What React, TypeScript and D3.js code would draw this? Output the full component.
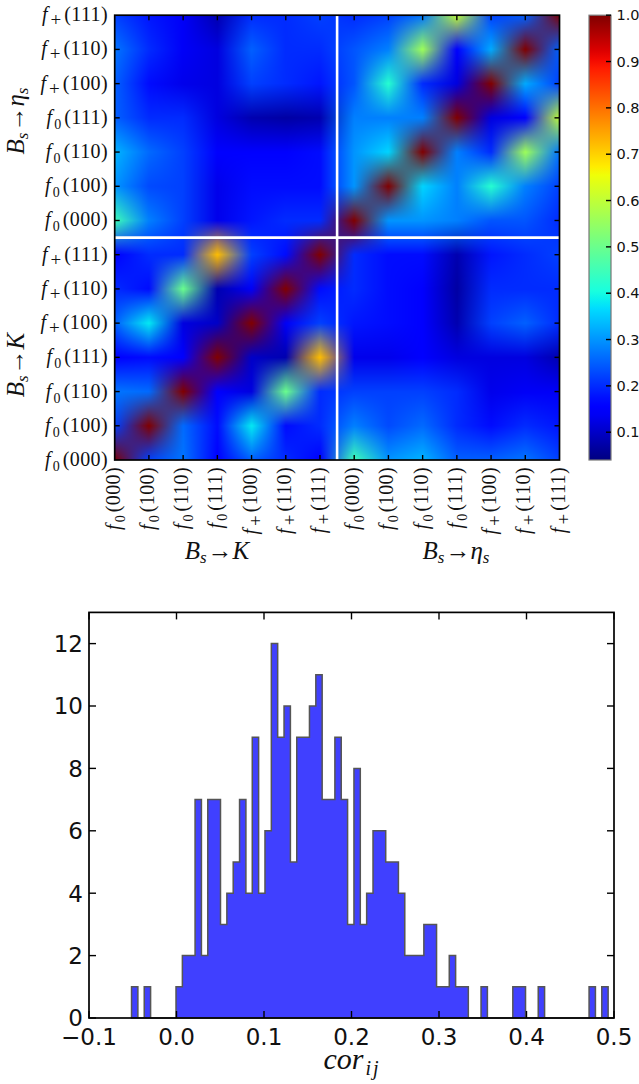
import { useMemo } from "react";
import * as d3 from "d3";

const formFactors = [
  ["0", "000"],
  ["0", "100"],
  ["0", "110"],
  ["0", "111"],
  ["+", "100"],
  ["+", "110"],
  ["+", "111"],
];

const corrKK = [
  [1.0, 0.22, 0.27, 0.15, 0.25, 0.2, 0.15],
  [0.22, 1.0, 0.26, 0.17, 0.38, 0.17, 0.2],
  [0.27, 0.26, 1.0, 0.15, 0.12, 0.5, 0.2],
  [0.15, 0.17, 0.15, 1.0, 0.1, 0.08, 0.72],
  [0.25, 0.38, 0.12, 0.1, 1.0, 0.14, 0.22],
  [0.2, 0.17, 0.5, 0.08, 0.14, 1.0, 0.17],
  [0.15, 0.2, 0.2, 0.72, 0.22, 0.17, 1.0],
];

const corrEE = [
  [1.0, 0.3, 0.3, 0.28, 0.24, 0.24, 0.2],
  [0.3, 1.0, 0.36, 0.28, 0.42, 0.28, 0.22],
  [0.3, 0.36, 1.0, 0.28, 0.2, 0.56, 0.27],
  [0.28, 0.28, 0.28, 1.0, 0.12, 0.15, 0.6],
  [0.24, 0.42, 0.2, 0.12, 1.0, 0.32, 0.22],
  [0.24, 0.28, 0.56, 0.15, 0.32, 1.0, 0.25],
  [0.2, 0.22, 0.27, 0.6, 0.22, 0.25, 1.0],
];

// rows: Bs->K, columns: Bs->eta_s
const corrKE = [
  [0.45, 0.3, 0.33, 0.25, 0.25, 0.27, 0.22],
  [0.28, 0.23, 0.26, 0.2, 0.17, 0.2, 0.18],
  [0.22, 0.22, 0.22, 0.2, 0.13, 0.14, 0.14],
  [0.13, 0.13, 0.15, 0.12, 0.12, 0.12, 0.08],
  [0.18, 0.17, 0.15, 0.08, 0.22, 0.25, 0.2],
  [0.2, 0.17, 0.16, 0.07, 0.2, 0.2, 0.2],
  [0.2, 0.17, 0.17, 0.08, 0.18, 0.2, 0.22],
];

const barTicks = [0.1, 0.2, 0.3, 0.4, 0.5, 0.6, 0.7, 0.8, 0.9, 1.0];

const histCounts = [
  1, 0, 1, 0, 0, 0, 0, 1, 2, 2, 7, 2, 7, 7, 3, 4, 5, 7, 4, 9, 4, 6, 12, 9, 10,
  5, 9, 9, 10, 11, 7, 7, 9, 7, 3, 8, 3, 4, 6, 6, 5, 5, 4, 2, 2, 2, 3, 3, 1, 1,
  2, 1, 1, 0, 0, 1, 0, 0, 0, 0, 1, 1, 0, 0, 1, 0, 0, 0, 0, 0, 0, 0, 1, 0, 1,
];
const histStart = -0.0514;
const histEnd = 0.4933;
const histXTicks = [-0.1, 0, 0.1, 0.2, 0.3, 0.4, 0.5];
const histYTicks = [0, 2, 4, 6, 8, 10, 12];

const vMin = 0.04;
const vMax = 1.0;

const jetStops = {
  r: [[0, 0], [0.35, 0], [0.66, 1], [0.89, 1], [1, 0.5]],
  g: [[0, 0], [0.125, 0], [0.375, 1], [0.64, 1], [0.91, 0], [1, 0]],
  b: [[0, 0.5], [0.11, 1], [0.34, 1], [0.65, 0], [1, 0]],
};

const channel = (stops: number[][]) =>
  d3.scaleLinear().domain(stops.map((d) => d[0])).range(stops.map((d) => d[1])).clamp(true);
const chR = channel(jetStops.r);
const chG = channel(jetStops.g);
const chB = channel(jetStops.b);
const jet = (t: number): number[] => [
  Math.round(chR(t) * 255),
  Math.round(chG(t) * 255),
  Math.round(chB(t) * 255),
];

const fullMatrix = () => {
  const n = formFactors.length;
  const m: number[][] = d3.range(2 * n).map(() => new Array(2 * n).fill(0));
  for (let i = 0; i < n; i++) {
    for (let j = 0; j < n; j++) {
      m[i][j] = corrKK[i][j];
      m[i + n][j + n] = corrEE[i][j];
      m[i][j + n] = corrKE[i][j];
      m[j + n][i] = corrKE[i][j];
    }
  }
  return m;
};

const SERIF = "'Liberation Serif', serif";
const SANS = "'DejaVu Sans', sans-serif";

const FFLabel = ({ sub, mom, ...rest }: any) => (
  <text fontFamily={SERIF} fontSize={20} fill="#111" {...rest}>
    <tspan fontStyle="italic">f</tspan>
    <tspan fontSize={sub === "+" ? 19 : 14} dx={sub === "+" ? 3 : 2} dy={5}>{sub}</tspan>
    <tspan dx={3} dy={-5} letterSpacing={0.4}>({mom})</tspan>
  </text>
);

const DecayLabel = ({ target, ...rest }: any) => (
  <text fontFamily={SERIF} fontSize={25} fill="#111" textAnchor="middle" {...rest}>
    <tspan fontStyle="italic">B</tspan>
    <tspan fontStyle="italic" fontSize={17} dy={4}>s</tspan>
    <tspan dy={-4} dx={1}>→</tspan>
    {target === "K" ? (
      <tspan fontStyle="italic">K</tspan>
    ) : (
      <>
        <tspan fontStyle="italic">η</tspan>
        <tspan fontStyle="italic" fontSize={17} dy={4}>s</tspan>
      </>
    )}
  </text>
);

const App = () => {
  const matrix = useMemo(fullMatrix, []);
  const n = matrix.length;
  const idx = d3.range(n);

  const x = d3.scaleLinear().domain([0, n - 1]).range([114.7, 559.5]);
  const y = d3.scaleLinear().domain([0, n - 1]).range([460, 15.2]);
  const cbar = d3.scaleLinear().domain([vMin, vMax]).range([460, 15.2]);
  const norm = d3.scaleLinear().domain([vMin, vMax]).range([0, 1]);

  // colours get mapped first and smoothed in RGB afterwards, which gives the grey halo
  const href = useMemo(() => {
    const colors = matrix.map((row) => row.map((v) => jet(norm(v))));
    const w = 445;
    const canvas = document.createElement("canvas");
    canvas.width = w;
    canvas.height = w;
    const ctx = canvas.getContext("2d")!;
    const img = ctx.createImageData(w, w);
    const at = (i: number) => Math.min(n - 1, i);
    for (let py = 0; py < w; py++) {
      const v = (1 - (py + 0.5) / w) * (n - 1);
      const r0 = Math.floor(v);
      const tr = v - r0;
      for (let px = 0; px < w; px++) {
        const u = ((px + 0.5) / w) * (n - 1);
        const c0 = Math.floor(u);
        const tc = u - c0;
        const p = (py * w + px) * 4;
        for (let ch = 0; ch < 3; ch++) {
          const bottom = d3.interpolateNumber(colors[r0][c0][ch], colors[r0][at(c0 + 1)][ch])(tc);
          const top = d3.interpolateNumber(colors[at(r0 + 1)][c0][ch], colors[at(r0 + 1)][at(c0 + 1)][ch])(tc);
          img.data[p + ch] = bottom + (top - bottom) * tr;
        }
        img.data[p + 3] = 255;
      }
    }
    ctx.putImageData(img, 0, 0);
    return canvas.toDataURL();
  }, [matrix]);

  const hx = d3.scaleLinear().domain([-0.1, 0.5]).range([89, 614]);
  const hy = d3.scaleLinear().domain([0, 13]).range([1018, 612.4]);
  const binWidth = (histEnd - histStart) / histCounts.length;
  const histPts = [...histCounts, 0].map((c, i) => [histStart + i * binWidth, c]);
  const area = d3
    .area<number[]>()
    .x((d) => hx(d[0]))
    .y0(hy(0))
    .y1((d) => hy(d[1]))
    .curve(d3.curveStepAfter);

  const gradStops = d3.range(0, 1.0001, 0.02);

  const mid = idx.length / 2 - 0.5;

  return (
    <svg width={639} height={1084} style={{ position: "absolute", left: 0, top: 0 }}>
      <defs>
        <linearGradient id="jetGrad" x1="0" y1="1" x2="0" y2="0">
          {gradStops.map((t) => (
            <stop key={t} offset={t} stopColor={`rgb(${jet(t).join(",")})`} />
          ))}
        </linearGradient>
      </defs>

      {/* heatmap */}
      <image
        href={href}
        x={x(0)}
        y={y(n - 1)}
        width={x(n - 1) - x(0)}
        height={y(0) - y(n - 1)}
        preserveAspectRatio="none"
      />
      <line x1={x(mid)} x2={x(mid)} y1={y(0)} y2={y(n - 1)} stroke="#fff" strokeWidth={2.6} />
      <line x1={x(0)} x2={x(n - 1)} y1={y(mid)} y2={y(mid)} stroke="#fff" strokeWidth={2.6} />
      <rect
        x={x(0)}
        y={y(n - 1)}
        width={x(n - 1) - x(0)}
        height={y(0) - y(n - 1)}
        fill="none"
        stroke="#000"
        strokeWidth={1.7}
      />
      {idx.slice(1, n - 1).map((i) => (
        <g key={i} stroke="#000" strokeWidth={1.4}>
          <line x1={x(i)} x2={x(i)} y1={y(0)} y2={y(0) - 5} />
          <line x1={x(i)} x2={x(i)} y1={y(n - 1)} y2={y(n - 1) + 5} />
          <line x1={x(0)} x2={x(0) + 5} y1={y(i)} y2={y(i)} />
          <line x1={x(n - 1)} x2={x(n - 1) - 5} y1={y(i)} y2={y(i)} />
        </g>
      ))}
      {idx.map((i) => {
        const [sub, mom] = formFactors[i % 7];
        return (
          <g key={i}>
            <FFLabel sub={sub} mom={mom} x={108} y={y(i) + 6} textAnchor="end" />
            <FFLabel
              sub={sub}
              mom={mom}
              textAnchor="end"
              transform={`translate(${x(i) + 5},467) rotate(-90)`}
            />
          </g>
        );
      })}
      <DecayLabel target="K" x={217} y={559} />
      <DecayLabel target="eta" x={456} y={559} />
      <DecayLabel target="K" transform={`translate(24,365) rotate(-90)`} />
      <DecayLabel target="eta" transform={`translate(24,121) rotate(-90)`} />

      {/* colorbar */}
      <rect
        x={589}
        y={cbar(vMax)}
        width={22}
        height={cbar(vMin) - cbar(vMax)}
        fill="url(#jetGrad)"
        stroke="#777"
        strokeWidth={1.2}
      />
      {barTicks.map((t) => (
        <g key={t}>
          <line x1={611} x2={606} y1={cbar(t)} y2={cbar(t)} stroke="#000" strokeWidth={1.4} />
          <text x={616.5} y={cbar(t) + 5} fontFamily={SANS} fontSize={14.5} fill="#111">
            {d3.format(".1f")(t)}
          </text>
        </g>
      ))}

      {/* histogram */}
      <path d={area(histPts) ?? ""} fill="#4040ff" stroke="#555" strokeWidth={1.5} />
      <rect
        x={hx(-0.1)}
        y={hy(13)}
        width={hx(0.5) - hx(-0.1)}
        height={hy(0) - hy(13)}
        fill="none"
        stroke="#000"
        strokeWidth={1.7}
      />
      {histXTicks.map((t) => (
        <g key={t}>
          <line x1={hx(t)} x2={hx(t)} y1={hy(0)} y2={hy(0) - 7} stroke="#000" strokeWidth={1.4} />
          <line x1={hx(t)} x2={hx(t)} y1={hy(13)} y2={hy(13) + 7} stroke="#000" strokeWidth={1.4} />
          <text x={hx(t)} y={1045} textAnchor="middle" fontFamily={SANS} fontSize={23} fill="#111">
            {d3.format(".1f")(t).replace("-", "−")}
          </text>
        </g>
      ))}
      {histYTicks.map((t) => (
        <g key={t}>
          <line x1={hx(-0.1)} x2={hx(-0.1) + 7} y1={hy(t)} y2={hy(t)} stroke="#000" strokeWidth={1.4} />
          <line x1={hx(0.5)} x2={hx(0.5) - 7} y1={hy(t)} y2={hy(t)} stroke="#000" strokeWidth={1.4} />
          <text x={83} y={hy(t) + 8.4} textAnchor="end" fontFamily={SANS} fontSize={23} fill="#111">
            {t}
          </text>
        </g>
      ))}
      <text x={352} y={1069} textAnchor="middle" fontFamily={SERIF} fontStyle="italic" fontSize={30} fill="#111">
        cor
        <tspan fontSize={20} dy={6} dx={2} letterSpacing={2}>ij</tspan>
      </text>
    </svg>
  );
};

export default App;
